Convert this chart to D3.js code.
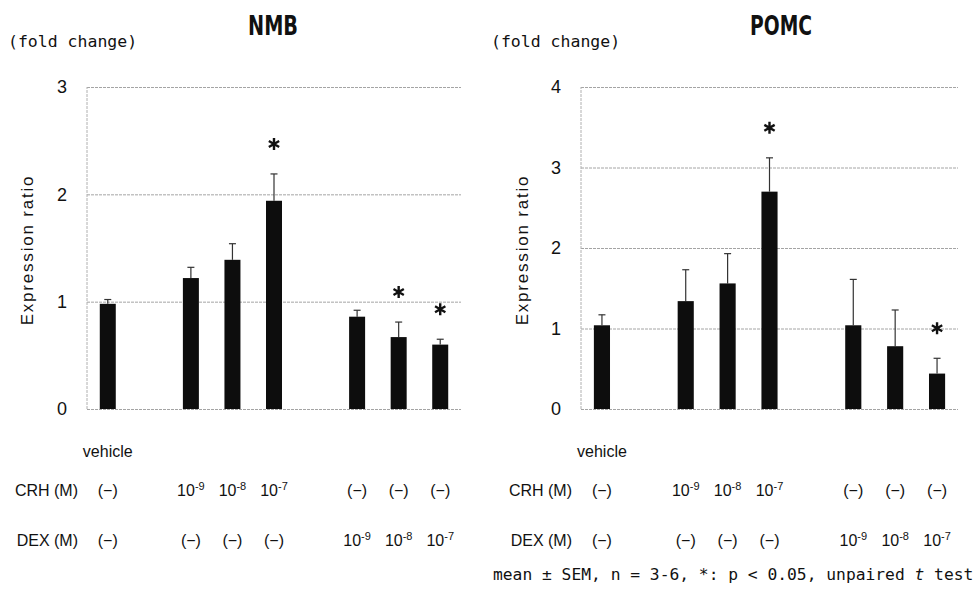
<!DOCTYPE html>
<meta charset="utf-8">
<style>
  body { margin: 0; background: #fff; }
  text { font-family: "Liberation Sans", Arial, sans-serif; fill: #111; }
</style>
<body>
<script src="https://cdn.jsdelivr.net/npm/d3@7/dist/d3.min.js"></script>
<script>

    var width = 978,
        height = 589;

    // slots along x: two empty slots separate the three groups
    var slots = ["vehicle", "gap1", "crh9", "crh8", "crh7", "gap2", "dex9", "dex8", "dex7"];
    var groups = ["vehicle", "crh9", "crh8", "crh7", "dex9", "dex8", "dex7"];

    // doses as exponent of 10 (M); null means (−)
    var crhDose = [null, -9, -8, -7, null, null, null];
    var dexDose = [null, null, null, null, -9, -8, -7];

    var nmbMean = [0.98, 1.22, 1.39, 1.94, 0.86, 0.67, 0.60];
    var nmbSem  = [0.04, 0.10, 0.15, 0.25, 0.06, 0.14, 0.05];
    var nmbSig  = [false, false, false, true, false, true, true];
    var nmbTicks = [0, 1, 2, 3];

    var pomcMean = [1.04, 1.34, 1.56, 2.70, 1.04, 0.78, 0.44];
    var pomcSem  = [0.13, 0.39, 0.37, 0.42, 0.57, 0.45, 0.19];
    var pomcSig  = [false, false, false, true, false, false, true];
    var pomcTicks = [0, 1, 2, 3, 4];

    var svg = d3.select("body").append("svg")
            .attr("width", width)
            .attr("height", height);

    //每个面板：标题、坐标、柱子、误差线、星号、下方剂量表
    function panel(opt) {
        var g = svg.append("g");

        var x = d3.scaleBand()
                .domain(slots)
                .range([opt.left, opt.right])
                .paddingInner(0.615)
                .paddingOuter(0.3075);

        var y = d3.scaleLinear()
                .domain([0, d3.max(opt.ticks)])
                .range([opt.bottom, opt.top]);

        var rows = groups.map(function (k, i) {
            return {key: k, mean: opt.mean[i], sem: opt.sem[i], sig: opt.sig[i],
                    crh: crhDose[i], dex: dexDose[i]};
        });

        // title and unit
        g.append("text")
                .attr("x", opt.titleX).attr("y", 35)
                .attr("text-anchor", "middle")
                .attr("textLength", opt.titleW)
                .attr("lengthAdjust", "spacingAndGlyphs")
                .style("font-family", "'Liberation Sans Narrow', 'DejaVu Sans Condensed', sans-serif")
                .style("font-weight", "bold")
                .style("font-size", "27px")
                .text(opt.title);

        g.append("text")
                .attr("x", opt.unitX).attr("y", 47)
                .style("font-family", "'DejaVu Sans Mono', 'Liberation Mono', monospace")
                .style("font-size", "16.5px")
                .text("(fold change)");

        // grid + tick labels
        var axis = d3.axisLeft(y)
                .tickValues(opt.ticks)
                .tickSizeInner(-(opt.right - opt.left))
                .tickSizeOuter(0)
                .tickPadding(20)
                .tickFormat(d3.format("d"));

        var ax = g.append("g")
                .attr("transform", "translate(" + opt.left + ",0)")
                .call(axis);
        ax.select(".domain").remove();
        ax.selectAll(".tick line")
                .attr("stroke", "#a4a4a4")
                .attr("stroke-dasharray", "3,1");
        ax.selectAll(".tick text")
                .style("font-size", "18px")
                .style("font-family", "'Liberation Sans', Arial, sans-serif")
                .attr("fill", "#111");

        g.append("line")
                .attr("x1", opt.left).attr("x2", opt.left)
                .attr("y1", y(0)).attr("y2", y(d3.max(opt.ticks)))
                .attr("stroke", "#b0b0b0")
                .attr("stroke-dasharray", "3,1");

        g.append("text")
                .attr("transform", "translate(" + opt.ylabX + "," + ((opt.top + opt.bottom) / 2 + 2) + ") rotate(-90)")
                .attr("text-anchor", "middle")
                .style("font-size", "17px")
                .style("letter-spacing", "1.8px")
                .text("Expression ratio");

        // error bars (upper only)
        var eb = g.selectAll(".err").data(rows).enter().append("g").attr("class", "err");
        eb.append("line")
                .attr("x1", function (d) { return x(d.key) + x.bandwidth() / 2; })
                .attr("x2", function (d) { return x(d.key) + x.bandwidth() / 2; })
                .attr("y1", function (d) { return y(d.mean); })
                .attr("y2", function (d) { return y(d.mean + d.sem); })
                .attr("stroke", "#333").attr("stroke-width", 1.2);
        eb.append("line")
                .attr("x1", function (d) { return x(d.key) + x.bandwidth() / 2 - 3.5; })
                .attr("x2", function (d) { return x(d.key) + x.bandwidth() / 2 + 3.5; })
                .attr("y1", function (d) { return y(d.mean + d.sem); })
                .attr("y2", function (d) { return y(d.mean + d.sem); })
                .attr("stroke", "#333").attr("stroke-width", 1.2);

        // bars
        g.selectAll(".bar").data(rows).enter().append("rect")
                .attr("class", "bar")
                .attr("x", function (d) { return x(d.key); })
                .attr("width", x.bandwidth())
                .attr("y", function (d) { return y(d.mean); })
                .attr("height", function (d) { return y(0) - y(d.mean); })
                .attr("fill", "#0d0d0d");

        // significance stars
        var star = d3.symbol().type(d3.symbolAsterisk).size(100);
        g.selectAll(".star").data(rows.filter(function (d) { return d.sig; })).enter().append("path")
                .attr("class", "star")
                .attr("transform", function (d) {
                    return "translate(" + (x(d.key) + x.bandwidth() / 2) + "," + (y(d.mean + d.sem) - 30) + ")";
                })
                .attr("d", star)
                .attr("fill", "none")
                .attr("stroke", "#111")
                .attr("stroke-width", 2.4);

        // dose table under the chart
        g.append("text")
                .attr("x", x("vehicle") + x.bandwidth() / 2).attr("y", 457)
                .attr("text-anchor", "middle")
                .style("font-size", "16px")
                .text("vehicle");

        [["CRH (M)", "crh", 496], ["DEX (M)", "dex", 546]].forEach(function (r) {
            g.append("text")
                    .attr("x", opt.left - 9).attr("y", r[2])
                    .attr("text-anchor", "end")
                    .style("font-size", "16px")
                    .text(r[0]);

            var cell = g.selectAll(".cell-" + r[1]).data(rows).enter().append("text")
                    .attr("class", "cell-" + r[1])
                    .attr("x", function (d) { return x(d.key) + x.bandwidth() / 2; })
                    .attr("y", r[2])
                    .attr("text-anchor", "middle")
                    .style("font-size", "16px");
            cell.each(function (d) {
                var t = d3.select(this), v = d[r[1]];
                if (v === null) {
                    t.text("(\u2212)");
                } else {
                    t.append("tspan").text("10");
                    t.append("tspan")
                            .attr("dy", -6)
                            .style("font-size", "11px")
                            .text(String(v));
                }
            });
        });
    }

    panel({title: "NMB", titleX: 273, titleW: 50, unitX: 8, ylabX: 33,
           left: 87, right: 461, top: 87, bottom: 409,
           ticks: nmbTicks, mean: nmbMean, sem: nmbSem, sig: nmbSig});

    panel({title: "POMC", titleX: 781, titleW: 62, unitX: 491, ylabX: 528,
           left: 581, right: 958, top: 87, bottom: 409,
           ticks: pomcTicks, mean: pomcMean, sem: pomcSem, sig: pomcSig});

    // footnote
    var foot = svg.append("text")
            .attr("x", 493).attr("y", 580)
            .style("font-family", "'DejaVu Sans Mono', 'Liberation Mono', monospace")
            .style("font-size", "16.3px");
    foot.append("tspan").text("mean \u00b1 SEM, n = 3-6, *: p < 0.05, unpaired ");
    foot.append("tspan").style("font-style", "italic").text("t");
    foot.append("tspan").text(" test");

</script>
